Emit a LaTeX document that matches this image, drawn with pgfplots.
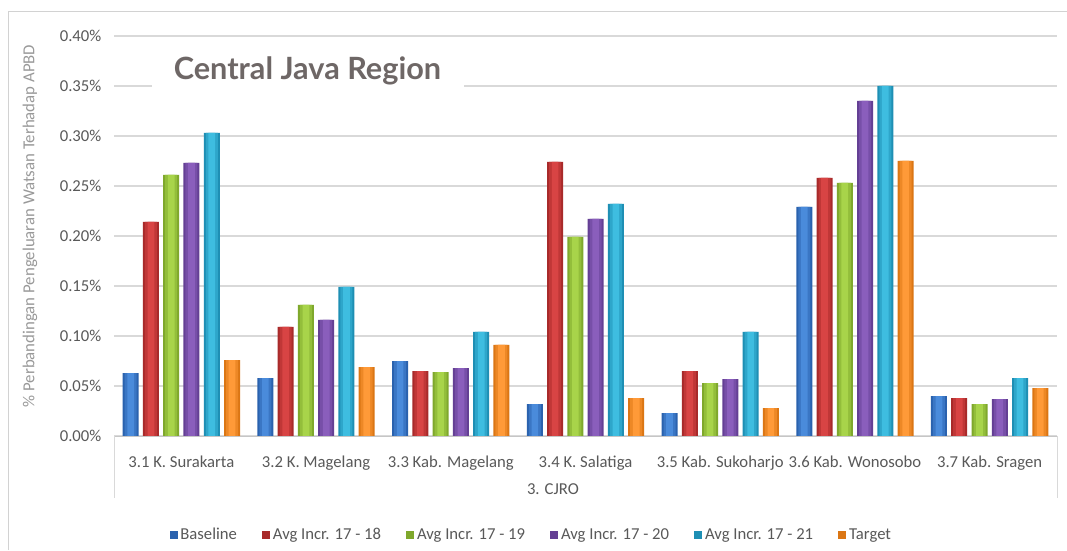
\documentclass[border=0pt]{standalone}
\usepackage{fontspec}
\setmainfont{Carlito}
\newfontfamily\titlefont{Lato}
\usepackage{pgfplots}
\usepackage{pgfplotstable}
\pgfplotsset{compat=1.18}
\definecolor{bL}{HTML}{4A8BDB}\definecolor{bD}{HTML}{2A62AE}
\definecolor{rL}{HTML}{D84444}\definecolor{rD}{HTML}{A82A2A}
\definecolor{gL}{HTML}{A8D44A}\definecolor{gD}{HTML}{7FA82C}
\definecolor{pL}{HTML}{8A5EBC}\definecolor{pD}{HTML}{643F94}
\definecolor{cL}{HTML}{3EBDE0}\definecolor{cD}{HTML}{1E8FB4}
\definecolor{oL}{HTML}{FF9A38}\definecolor{oD}{HTML}{DB7614}
\definecolor{gridc}{HTML}{D9D9D9}
\definecolor{txt}{HTML}{595959}
\definecolor{ttl}{HTML}{6E6766}
\pgfplotstableread{
x  b     r     g     p     c     o
0  0.063 0.214 0.261 0.273 0.303 0.076
1  0.058 0.109 0.131 0.116 0.149 0.069
2  0.075 0.065 0.064 0.068 0.104 0.091
3  0.032 0.274 0.199 0.217 0.232 0.038
4  0.023 0.065 0.053 0.057 0.104 0.028
5  0.229 0.258 0.253 0.335 0.350 0.275
6  0.040 0.038 0.032 0.037 0.058 0.048
}\data
\begin{document}
\begin{tikzpicture}
\useasboundingbox (0,0) rectangle (800.25pt,412.5pt);
\fill[white] (0,0) rectangle (800.25pt,412.5pt);
\draw[gray!35, line width=0.75pt] (6pt,0) -- (6pt,403.5pt) -- (800.25pt,403.5pt);
\begin{axis}[
  at={(85.5pt,85.5pt)}, anchor=south west,
  width=707.25pt, height=300pt, scale only axis,
  ybar, bar width=12pt,
  xmin=-0.5, xmax=6.5, ymin=0, ymax=0.4,
  xtick={0,...,6},
  xticklabels={3.1 K. Surakarta,3.2 K. Magelang,3.3 Kab. Magelang,3.4 K. Salatiga,3.5 Kab. Sukoharjo,3.6 Kab. Wonosobo,3.7 Kab. Sragen},
  ytick={0,0.05,...,0.41},
  yticklabel={\pgfmathprintnumber[fixed,fixed zerofill,precision=2]{\tick}\%},
  /pgf/number format/assume math mode=true,
  ymajorgrids, grid style={gridc, line width=0.9pt},
  axis line style={draw=none}, tick style={draw=none},
  tick label style={font=\fontsize{12.5}{14}\selectfont, text=txt},
  xticklabel style={anchor=base, yshift=-19.5pt},
  yticklabel style={xshift=-6pt},
  legend columns=6,
  legend style={at={(axis description cs:0.443,-0.2475)}, anchor=center, draw=none, fill=none,
    font=\fontsize{12.5}{14}\selectfont, text=txt,
    /tikz/every even column/.append style={column sep=17pt}},
  legend image code/.code={\fill[#1] (0pt,-3pt) rectangle (6pt,3pt);},
  clip=false,
]
\addplot[draw=none, fill=bD, bar shift=-38pt] table[x=x,y=b]{\data};
\addplot[draw=none, fill=rD, bar shift=-22.8pt] table[x=x,y=r]{\data};
\addplot[draw=none, fill=gD, bar shift=-7.6pt] table[x=x,y=g]{\data};
\addplot[draw=none, fill=pD, bar shift=7.6pt] table[x=x,y=p]{\data};
\addplot[draw=none, fill=cD, bar shift=22.8pt] table[x=x,y=c]{\data};
\addplot[draw=none, fill=oD, bar shift=38pt] table[x=x,y=o]{\data};
\legend{Baseline,Avg Incr. 17 - 18,Avg Incr. 17 - 19,Avg Incr. 17 - 20,Avg Incr. 17 - 21,Target}
\addplot[forget plot, draw=none, fill=bL!50!bD, bar width=9pt, bar shift=-38pt] table[x=x,y=b]{\data};
\addplot[forget plot, draw=none, fill=rL!50!rD, bar width=9pt, bar shift=-22.8pt] table[x=x,y=r]{\data};
\addplot[forget plot, draw=none, fill=gL!50!gD, bar width=9pt, bar shift=-7.6pt] table[x=x,y=g]{\data};
\addplot[forget plot, draw=none, fill=pL!50!pD, bar width=9pt, bar shift=7.6pt] table[x=x,y=p]{\data};
\addplot[forget plot, draw=none, fill=cL!50!cD, bar width=9pt, bar shift=22.8pt] table[x=x,y=c]{\data};
\addplot[forget plot, draw=none, fill=oL!50!oD, bar width=9pt, bar shift=38pt] table[x=x,y=o]{\data};
\addplot[forget plot, draw=none, fill=bL, bar width=5pt, bar shift=-38pt] table[x=x,y=b]{\data};
\addplot[forget plot, draw=none, fill=rL, bar width=5pt, bar shift=-22.8pt] table[x=x,y=r]{\data};
\addplot[forget plot, draw=none, fill=gL, bar width=5pt, bar shift=-7.6pt] table[x=x,y=g]{\data};
\addplot[forget plot, draw=none, fill=pL, bar width=5pt, bar shift=7.6pt] table[x=x,y=p]{\data};
\addplot[forget plot, draw=none, fill=cL, bar width=5pt, bar shift=22.8pt] table[x=x,y=c]{\data};
\addplot[forget plot, draw=none, fill=oL, bar width=5pt, bar shift=38pt] table[x=x,y=o]{\data};
\draw[gray!45, line width=0.75pt] (rel axis cs:0,0) -- (rel axis cs:1,0);
\draw[gray!30, line width=0.75pt] (rel axis cs:0,0) -- ([yshift=-46.5pt]rel axis cs:0,0);
\draw[gray!30, line width=0.75pt] (rel axis cs:1,0) -- ([yshift=-46.5pt]rel axis cs:1,0);
\node[anchor=base, font=\fontsize{12.5}{14}\selectfont, text=txt] at ([yshift=-43.5pt]rel axis cs:0.4655,0) {3. CJRO};
\node[rotate=90, anchor=center, font=\fontsize{12.6}{14}\selectfont, text=gray!80] at ([xshift=-63pt]rel axis cs:0,0.525) {\% Perbandingan Pengeluaran Watsan Terhadap APBD};
\fill[white] (rel axis cs:0.0403,0.86) rectangle (rel axis cs:0.371,0.96);
\node[anchor=base, font=\titlefont\bfseries\fontsize{23}{26}\selectfont, text=ttl] at (rel axis cs:0.2052,0.89) {Central Java Region};
\end{axis}
\end{tikzpicture}
\end{document}
